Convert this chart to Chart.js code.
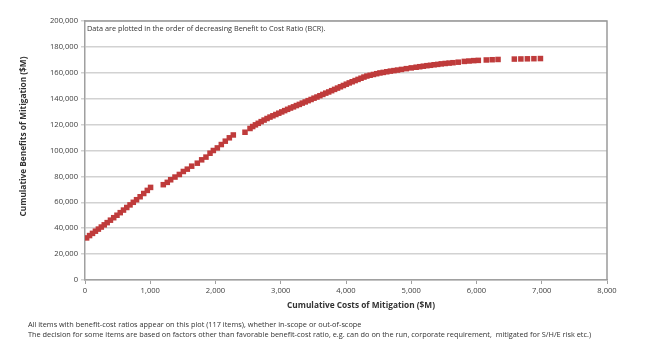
<!DOCTYPE html>
<html>
<head>
<meta charset="utf-8">
<script src="https://cdn.jsdelivr.net/npm/chart.js@4.4.1/dist/chart.umd.min.js"></script>
<style>
  html, body { margin:0; padding:0; background:#fff; }
  #wrap { position:relative; width:650px; height:355px; }
  canvas { position:absolute; left:0; top:0; }
</style>
</head>
<body>
<div id="wrap"><canvas id="c" width="650" height="355"></canvas></div>
<script>
// ---- Data (cumulative cost $M, cumulative benefit $M), in order of decreasing BCR ----
const costs1 = [25,70,115,160,205,250,295,340,390,440,490,540,590,640,690,740,790,845,900,955,1005];
const benefits1 = [32500,34300,36000,37700,39300,40900,42600,44300,46200,48100,50000,52000,54000,56000,58000,60000,62000,64300,66800,69200,71500];

const costs2 = [1200,1261,1313,1379,1446,1507,1568,1635,1721,1788,1854,1916,1967,2028,2089,2150,2212,2273];
const benefits2 = [73600,75400,77400,79500,81500,83800,85600,87900,90200,92800,94900,97900,100000,102000,104600,107200,109800,112000];

const costs3 = [2452,2529,2570,2612,2655,2700,2745,2790,2835,2880,2925,2970,3015,3060,3105,3150,3195,3240,3285,3330,3375,3420,3465,3510,3555,3600,3645,3690,3735,3780,3825,3870,3915,3960,4005,4050,4095,4140,4185,4230,4275,4320,4370,4420,4470,4520,4570,4625,4680,4735,4790,4850,4925,5000,5075,5130,5185,5240,5295,5350,5405,5460,5520,5580,5640,5720];
const benefits3 = [114100,117000,118500,119800,121000,122300,123500,124700,125800,126800,127800,128800,129800,130800,131800,132800,133700,134700,135600,136600,137500,138500,139400,140400,141300,142300,143300,144300,145200,146200,147200,148200,149200,150200,151200,152200,153100,154000,154900,155800,156700,157500,158100,158700,159300,159900,160300,160800,161300,161700,162100,162600,163200,163800,164300,164700,165100,165500,165800,166200,166500,166900,167200,167500,167800,168200];

const costs4 = [5813,5885,5957,6028,6150,6240,6330,6580,6680,6780,6880,6980];
const benefits4 = [168800,169100,169400,169600,169900,170100,170300,170600,170700,170800,170900,171000];

const xTicks = [0,1000,2000,3000,4000,5000,6000,7000,8000];
const yTicks = [0,20000,40000,60000,80000,100000,120000,140000,160000,180000,200000];

const xTitle = 'Cumulative Costs of Mitigation ($M)';
const yTitle = 'Cumulative Benefits of Mitigation ($M)';
const note = 'Data are plotted in the order of decreasing Benefit to Cost Ratio (BCR).';
const foot1 = 'All items with benefit-cost ratios appear on this plot (117 items), whether in-scope or out-of-scope';
const foot2 = 'The decision for some items are based on factors other than favorable benefit-cost ratio, e.g. can do on the run, corporate requirement,  mitigated for S/H/E risk etc.)';

const costs = costs1.concat(costs2, costs3, costs4);
const benefits = benefits1.concat(benefits2, benefits3, benefits4);
const points = costs.map((x, i) => ({ x: x, y: benefits[i] }));

const FONT = '"Open Sans", "Liberation Sans", sans-serif';

const decor = {
  id: 'decor',
  beforeDatasetsDraw(chart) {
    const { ctx, chartArea: a } = chart;
    ctx.save();
    ctx.strokeStyle = '#9a9a9a';
    ctx.lineWidth = 1.5;
    ctx.beginPath();
    ctx.moveTo(a.left, a.top);
    ctx.lineTo(a.right, a.top);
    ctx.lineTo(a.right, a.bottom);
    ctx.stroke();
    ctx.restore();
  },
  afterDraw(chart) {
    const { ctx, chartArea: a } = chart;
    ctx.save();
    ctx.fillStyle = '#333';
    ctx.textBaseline = 'middle';
    ctx.textAlign = 'left';
    ctx.font = '7.3px ' + FONT;
    ctx.fillText(note, a.left + 2, a.top + 8);
    // axis titles
    ctx.font = 'bold 8.3px ' + FONT;
    ctx.textAlign = 'center';
    ctx.fillText(xTitle, a.left + (a.right - a.left) / 2 + 15, 306);
    ctx.save();
    ctx.translate(24, (a.top + a.bottom) / 2 - 14);
    ctx.rotate(-Math.PI / 2);
    ctx.fillText(yTitle, 0, 0);
    ctx.restore();
    // footnotes
    ctx.font = '7.35px ' + FONT;
    ctx.textAlign = 'left';
    ctx.fillText(foot1, 28, 325);
    ctx.fillText(foot2, 28, 334.5);
    ctx.restore();
  }
};

new Chart(document.getElementById('c'), {
  type: 'scatter',
  data: {
    datasets: [{
      data: points,
      pointStyle: 'rect',
      pointRadius: 3.9,
      pointHoverRadius: 3.9,
      backgroundColor: '#BF3B3B',
      borderColor: '#BF3B3B',
      borderWidth: 0
    }]
  },
  options: {
    responsive: false,
    animation: false,
    events: [],
    layout: { padding: { top: 21, right: 43, left: 0, bottom: 0 } },
    plugins: { legend: { display: false }, tooltip: { enabled: false } },
    scales: {
      x: {
        type: 'linear',
        min: 0, max: 8000,
        afterBuildTicks(s) { s.ticks = xTicks.map(v => ({ value: v })); },
        afterFit(s) { s.height = 75; },
        grid: { drawOnChartArea: false, drawTicks: true, tickLength: 4, color: '#a0a0a0', lineWidth: 1 },
        border: { display: true, color: '#a0a0a0', width: 1.5 },
        ticks: { color: '#404040', font: { family: FONT, size: 7.6 }, padding: 2, maxRotation: 0 }
      },
      y: {
        type: 'linear',
        min: 0, max: 200000,
        afterBuildTicks(s) { s.ticks = yTicks.map(v => ({ value: v })); },
        afterFit(s) { s.width = 85; },
        grid: { drawOnChartArea: true, drawTicks: true, tickLength: 4, color: '#d2d2d2', lineWidth: 1.5 },
        border: { display: true, color: '#a0a0a0', width: 1.5 },
        ticks: { color: '#404040', font: { family: FONT, size: 7.6 }, padding: 3 }
      }
    }
  },
  plugins: [decor]
});
</script>
</body>
</html>
